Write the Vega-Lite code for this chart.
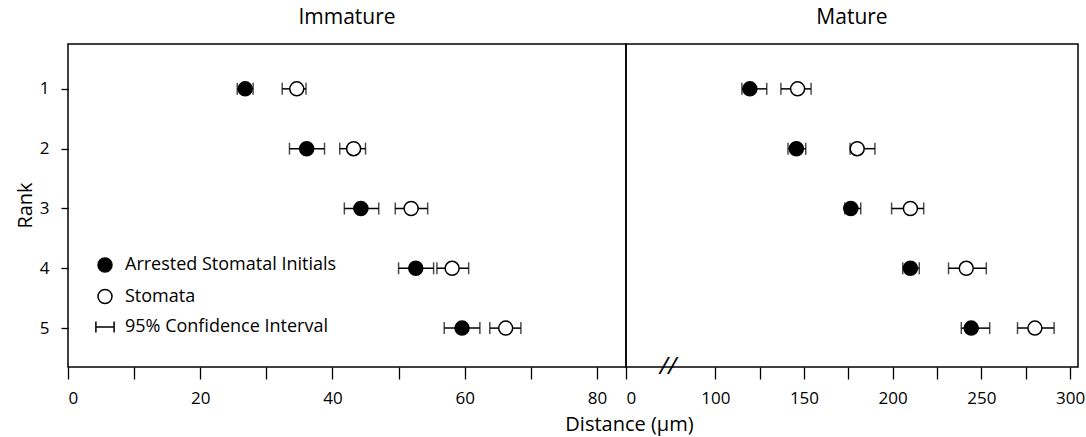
{
  "$schema": "https://vega.github.io/schema/vega-lite/v6.json",
  "padding": {"left": 14, "top": 6, "right": 5, "bottom": 1},
  "spacing": 0,
  "bounds": "flush",
  "background": "white",
  "config": {
    "font": "Open Sans",
    "view": {"stroke": "black", "strokeWidth": 1.5},
    "axis": {"domain": false, "grid": false, "tickColor": "black", "labelColor": "black", "titleColor": "black", "labelFontSize": 17, "titleFontSize": 20, "titleFontWeight": "normal", "tickWidth": 1.3},
    "title": {"fontSize": 21, "fontWeight": "normal", "color": "black", "offset": 16},
    "concat": {"spacing": 0}
  },
  "datasets": {
    "immature": [
      {"rank": 1, "series": "Arrested Stomatal Initials", "value": 26.8, "lo": 25.6, "hi": 28.0},
      {"rank": 1, "series": "Stomata", "value": 34.6, "lo": 32.4, "hi": 36.0},
      {"rank": 2, "series": "Arrested Stomatal Initials", "value": 36.1, "lo": 33.5, "hi": 38.8},
      {"rank": 2, "series": "Stomata", "value": 43.2, "lo": 41.1, "hi": 45.0},
      {"rank": 3, "series": "Arrested Stomatal Initials", "value": 44.3, "lo": 41.8, "hi": 47.0},
      {"rank": 3, "series": "Stomata", "value": 51.9, "lo": 49.5, "hi": 54.4},
      {"rank": 4, "series": "Arrested Stomatal Initials", "value": 52.6, "lo": 50.0, "hi": 55.3},
      {"rank": 4, "series": "Stomata", "value": 58.1, "lo": 55.8, "hi": 60.6},
      {"rank": 5, "series": "Arrested Stomatal Initials", "value": 59.6, "lo": 56.9, "hi": 62.3},
      {"rank": 5, "series": "Stomata", "value": 66.2, "lo": 63.8, "hi": 68.5}
    ],
    "mature": [
      {"rank": 1, "series": "Arrested Stomatal Initials", "value": 119.5, "lo": 115.0, "hi": 129.0},
      {"rank": 1, "series": "Stomata", "value": 146.4, "lo": 137.0, "hi": 154.0},
      {"rank": 2, "series": "Arrested Stomatal Initials", "value": 145.7, "lo": 141.0, "hi": 151.0},
      {"rank": 2, "series": "Stomata", "value": 180.0, "lo": 176.0, "hi": 190.0},
      {"rank": 3, "series": "Arrested Stomatal Initials", "value": 176.4, "lo": 173.0, "hi": 182.0},
      {"rank": 3, "series": "Stomata", "value": 210.0, "lo": 199.4, "hi": 217.5},
      {"rank": 4, "series": "Arrested Stomatal Initials", "value": 210.0, "lo": 205.7, "hi": 215.0},
      {"rank": 4, "series": "Stomata", "value": 241.5, "lo": 231.5, "hi": 252.8},
      {"rank": 5, "series": "Arrested Stomatal Initials", "value": 244.3, "lo": 238.7, "hi": 254.7},
      {"rank": 5, "series": "Stomata", "value": 280.2, "lo": 270.4, "hi": 291.0}
    ],
    "breakmark": [{"d": 47, "r": 5.65, "t": "//"}]
  },
  "resolve": {"scale": {"x": "independent"}},
  "hconcat": [
    {
      "width": 558,
      "height": 323,
      "title": {"text": "Immature"},
      "data": {"name": "immature"},
      "layer": [
        {
          "mark": {"type": "rule", "color": "black", "strokeWidth": 1.5},
          "encoding": {
            "x": {"field": "lo", "type": "quantitative",
              "scale": {"domain": [0, 84.4], "nice": false, "zero": false},
              "axis": {"values": [0, 10, 20, 30, 40, 50, 60, 70, 80], "format": "d", "labelExpr": "datum.value % 20 == 0 ? datum.label : ''", "tickSize": 12, "labelPadding": 11, "title": "Distance (µm)", "titleX": 561, "titleY": 47, "titleAlign": "center", "titleBaseline": "top"}},
            "x2": {"field": "hi"},
            "y": {"field": "rank", "type": "quantitative",
              "scale": {"domain": [0.25, 5.65], "reverse": true, "nice": false, "zero": false},
              "axis": {"values": [1, 2, 3, 4, 5], "format": "d", "tickSize": 7, "labelPadding": 12, "title": "Rank", "titleX": -43, "titleY": 161, "titleAngle": -90, "titleAlign": "center", "titleBaseline": "middle"}}
          }
        },
        {
          "mark": {"type": "tick", "orient": "vertical", "size": 12, "thickness": 1.5, "color": "black"},
          "encoding": {"x": {"field": "lo", "type": "quantitative"}, "y": {"field": "rank", "type": "quantitative"}}
        },
        {
          "mark": {"type": "tick", "orient": "vertical", "size": 12, "thickness": 1.5, "color": "black"},
          "encoding": {"x": {"field": "hi", "type": "quantitative"}, "y": {"field": "rank", "type": "quantitative"}}
        },
        {
          "mark": {"type": "point", "size": 196, "strokeWidth": 1.5, "opacity": 1, "fillOpacity": 1, "strokeOpacity": 1},
          "encoding": {
            "x": {"field": "value", "type": "quantitative"},
            "y": {"field": "rank", "type": "quantitative"},
            "shape": {"field": "series", "type": "nominal",
              "scale": {"domain": ["Arrested Stomatal Initials", "Stomata", "95% Confidence Interval"], "range": ["circle", "circle", "M-1.3,-0.8L-1.3,0.8M-1.3,0L1.3,0M1.3,-0.8L1.3,0.8"]},
              "legend": {"title": null, "orient": "none", "legendX": 28, "legendY": 212, "symbolSize": 196, "symbolStrokeWidth": 1.5, "labelFontSize": 18, "labelColor": "black", "labelOffset": 11, "labelLimit": 400, "rowPadding": 11.5}},
            "fill": {"field": "series", "type": "nominal",
              "scale": {"domain": ["Arrested Stomatal Initials", "Stomata", "95% Confidence Interval"], "range": ["black", "white", "transparent"]},
              "legend": {"title": null, "orient": "none", "legendX": 28, "legendY": 212, "symbolSize": 196, "symbolStrokeWidth": 1.5, "labelFontSize": 18, "labelColor": "black", "labelOffset": 11, "labelLimit": 400, "rowPadding": 11.5}},
            "stroke": {"field": "series", "type": "nominal",
              "scale": {"domain": ["Arrested Stomatal Initials", "Stomata", "95% Confidence Interval"], "range": ["black", "black", "black"]},
              "legend": {"title": null, "orient": "none", "legendX": 28, "legendY": 212, "symbolSize": 196, "symbolStrokeWidth": 1.5, "labelFontSize": 18, "labelColor": "black", "labelOffset": 11, "labelLimit": 400, "rowPadding": 11.5}}
          }
        }
      ]
    },
    {
      "width": 452,
      "height": 323,
      "title": {"text": "Mature"},
      "layer": [
        {
          "data": {"name": "mature"},
          "mark": {"type": "rule", "color": "black", "strokeWidth": 1.5},
          "encoding": {
            "x": {"field": "lo", "type": "quantitative",
              "scale": {"domain": [0, 100, 304.5], "range": [0, 89.3, 452], "nice": false, "zero": false},
              "axis": {"values": [0, 100, 125, 150, 175, 200, 225, 250, 275, 300], "format": "d", "labelExpr": "datum.value % 50 == 0 ? datum.label : ''", "tickSize": 12, "labelPadding": 11, "title": null}},
            "x2": {"field": "hi"},
            "y": {"field": "rank", "type": "quantitative",
              "scale": {"domain": [0.25, 5.65], "reverse": true, "nice": false, "zero": false},
              "axis": null}
          }
        },
        {
          "data": {"name": "mature"},
          "mark": {"type": "tick", "orient": "vertical", "size": 12, "thickness": 1.5, "color": "black"},
          "encoding": {"x": {"field": "lo", "type": "quantitative"}, "y": {"field": "rank", "type": "quantitative"}}
        },
        {
          "data": {"name": "mature"},
          "mark": {"type": "tick", "orient": "vertical", "size": 12, "thickness": 1.5, "color": "black"},
          "encoding": {"x": {"field": "hi", "type": "quantitative"}, "y": {"field": "rank", "type": "quantitative"}}
        },
        {
          "data": {"name": "mature"},
          "mark": {"type": "point", "size": 196, "strokeWidth": 1.5, "opacity": 1, "fillOpacity": 1, "strokeOpacity": 1},
          "encoding": {
            "x": {"field": "value", "type": "quantitative"},
            "y": {"field": "rank", "type": "quantitative"},
            "shape": {"field": "series", "type": "nominal"},
            "fill": {"field": "series", "type": "nominal"},
            "stroke": {"field": "series", "type": "nominal"}
          }
        },
        {
          "data": {"name": "breakmark"},
          "mark": {"type": "text", "fontSize": 24, "baseline": "middle", "align": "center", "color": "black", "fontStyle": "italic"},
          "encoding": {
            "x": {"field": "d", "type": "quantitative"},
            "y": {"field": "r", "type": "quantitative"},
            "text": {"field": "t"}
          }
        }
      ]
    }
  ]
}
